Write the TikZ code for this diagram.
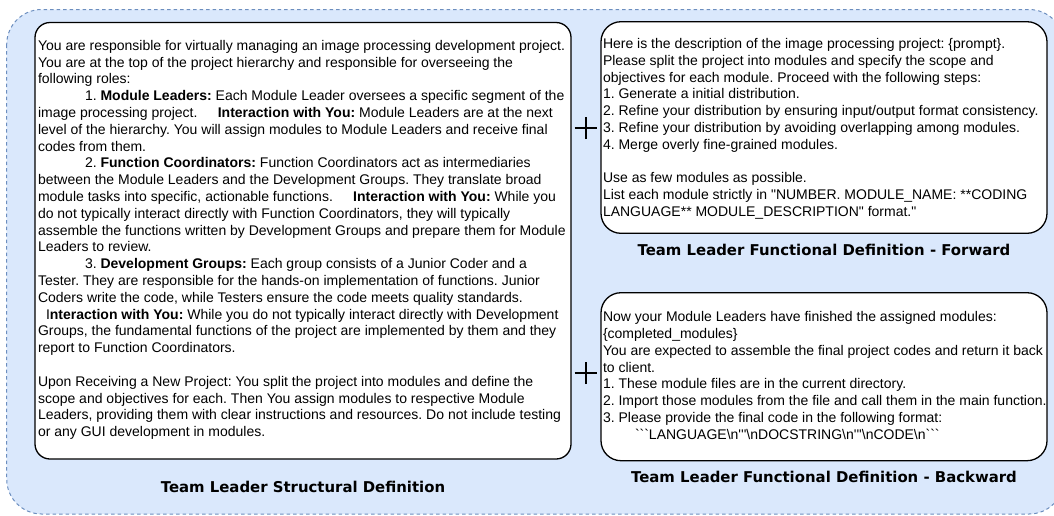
\documentclass[tikz,border=0pt]{standalone}
\usepackage{fontspec}
\setmainfont{Liberation Sans}[Ligatures=TeXOff]
\newfontfamily\capfont{DejaVu Sans}[Ligatures=TeXOff]
\definecolor{panelblue}{HTML}{DAE8FC}
\definecolor{paneledge}{HTML}{6C8EBF}
\frenchspacing

\begin{document}
\begin{tikzpicture}[x=1pt, y=-1pt,
  every node/.style={inner sep=0pt, outer sep=0pt},
  frame/.style={draw=black, line width=1.3pt, fill=white, rounded corners=#1},
  frame/.default=15pt,
  prompt/.style={anchor=north west, align=left, font=\fontsize{14}{16.8}\selectfont},
  caption/.style={font=\capfont\bfseries\fontsize{14.9}{17.8}\selectfont},
  plusline/.style={draw=black, line width=2pt}]
\useasboundingbox (0,0) rectangle (1054,515);
\begin{scope}
\clip (0,0) rectangle (1054,515);
\draw[fill=panelblue, draw=paneledge, line width=1pt, dash pattern=on 3.5pt off 3pt, rounded corners=35pt] (6.7,9.5) rectangle (1064,514);
\end{scope}

\node[frame=15pt, minimum width=536pt, minimum height=436.5pt] (structBox) at (303,240.75) {};
\node[frame=20pt, minimum width=446pt, minimum height=211.6pt] (fwdBox) at (824,127.5) {};
\node[frame=20pt, minimum width=446pt, minimum height=168pt] (bwdBox) at (824,376.7) {};

\node[prompt] (structText) at (38,38.5) {\strut You are responsible for virtually managing an image processing development project.\\
You are at the top of the project hierarchy and responsible for overseeing the\\
following roles:\\
\hspace*{47pt}1. \textbf{Module Leaders:} Each Module Leader oversees a specific segment of the\\
image processing project.\hspace{1.45em}\textbf{Interaction with You:} Module Leaders are at the next\\
level of the hierarchy. You will assign modules to Module Leaders and receive final\\
codes from them.\\
\hspace*{47pt}2. \textbf{Function Coordinators:} Function Coordinators act as intermediaries\\
between the Module Leaders and the Development Groups. They translate broad\\
module tasks into specific, actionable functions.\hspace{1.45em}\textbf{Interaction with You:} While you\\
do not typically interact directly with Function Coordinators, they will typically\\
assemble the functions written by Development Groups and prepare them for Module\\
Leaders to review.\\
\hspace*{47pt}3. \textbf{Development Groups:} Each group consists of a Junior Coder and a\\
Tester. They are responsible for the hands-on implementation of functions. Junior\\
Coders write the code, while Testers ensure the code meets quality standards.\\
\hspace*{8pt}I\textbf{nteraction with You:} While you do not typically interact directly with Development\\
Groups, the fundamental functions of the project are implemented by them and they\\
report to Function Coordinators.\\[16.8pt]
Upon Receiving a New Project: You split the project into modules and define the\\
scope and objectives for each. Then You assign modules to respective Module\\
Leaders, providing them with clear instructions and resources. Do not include testing\\
or any GUI development in modules.};

\node[prompt] (fwdText) at (603,36.7) {\strut Here is the description of the image processing project: \{prompt\}.\\
Please split the project into modules and specify the scope and\\
objectives for each module. Proceed with the following steps:\\
1. Generate a initial distribution.\\
2. Refine your distribution by ensuring input/output format consistency.\\
3. Refine your distribution by avoiding overlapping among modules.\\
4. Merge overly fine-grained modules.\\[16.8pt]
Use as few modules as possible.\\
List each module strictly in "NUMBER. MODULE\_NAME: **CODING\\
LANGUAGE** MODULE\_DESCRIPTION" format."};

\node[prompt] (bwdText) at (603,310) {\strut Now your Module Leaders have finished the assigned modules:\\
\{completed\_modules\}\\
You are expected to assemble the final project codes and return it back\\
to client.\\
1. These module files are in the current directory.\\
2. Import those modules from the file and call them in the main function.\\
3. Please provide the final code in the following format:\\
\hspace*{32pt}```LANGUAGE\textbackslash n'''\textbackslash nDOCSTRING\textbackslash n'''\textbackslash nCODE\textbackslash n```};

\node[caption] (structCap) at (303,486.7) {Team Leader Structural Definition};
\node[caption] (fwdCap) at (824,250) {Team Leader Functional Definition - Forward};
\node[caption] (bwdCap) at (824,477) {Team Leader Functional Definition - Backward};

\coordinate (plusUpper) at (585.5,128);
\coordinate (plusLower) at (585.5,373);
\draw[plusline] ([xshift=-11pt]plusUpper) -- ([xshift=11pt]plusUpper) ([yshift=-11pt]plusUpper) -- ([yshift=11pt]plusUpper);
\draw[plusline] ([xshift=-11pt]plusLower) -- ([xshift=11pt]plusLower) ([yshift=-11pt]plusLower) -- ([yshift=11pt]plusLower);
\end{tikzpicture}
\end{document}
